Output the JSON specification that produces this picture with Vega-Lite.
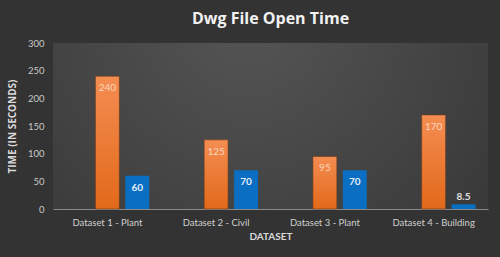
{
  "$schema": "https://vega.github.io/schema/vega-lite/v6.json",
  "width": 435,
  "height": 166,
  "autosize": {"type": "none"},
  "padding": {"left": 53, "top": 43, "right": 12, "bottom": 48},
  "background": "#333333",
  "title": {
    "text": "Dwg File Open Time",
    "font": "Open Sans",
    "fontSize": 16,
    "fontWeight": "bold",
    "color": "#f2f2f2",
    "anchor": "middle",
    "offset": 11
  },
  "config": {
    "view": {"stroke": null,
      "fill": {"gradient": "radial", "x1": 0.45, "y1": 0.25, "x2": 0.45, "y2": 0.25, "r1": 0, "r2": 0.8,
        "stops": [{"offset": 0, "color": "#555555"}, {"offset": 1, "color": "#353535"}]}},
    "font": "Lato"
  },
  "data": {
    "values": [
      {"dataset": "Dataset 1 - Plant", "series": "s1", "time": 240},
      {"dataset": "Dataset 1 - Plant", "series": "s2", "time": 60},
      {"dataset": "Dataset 2 - Civil", "series": "s1", "time": 125},
      {"dataset": "Dataset 2 - Civil", "series": "s2", "time": 70},
      {"dataset": "Dataset 3 - Plant", "series": "s1", "time": 95},
      {"dataset": "Dataset 3 - Plant", "series": "s2", "time": 70},
      {"dataset": "Dataset 4 - Building", "series": "s1", "time": 170},
      {"dataset": "Dataset 4 - Building", "series": "s2", "time": 8.5}
    ]
  },
  "encoding": {
    "x": {
      "field": "dataset", "type": "nominal", "sort": null,
      "scale": {"paddingInner": 0.23, "paddingOuter": 0.115},
      "axis": {
        "title": "DATASET", "labelAngle": 0, "labelColor": "#d0d0d0", "labelFontSize": 9.5,
        "labelPadding": 8, "ticks": false, "domainColor": "#8a8a8a", "domainWidth": 1,
        "titleColor": "#d9d9d9", "titleFontSize": 10, "titleFontWeight": "bold", "titlePadding": 5
      }
    },
    "xOffset": {
      "field": "series", "type": "nominal",
      "scale": {"domain": ["s0", "s1", "s2"], "paddingInner": 0.2, "paddingOuter": 0}
    },
    "y": {
      "field": "time", "type": "quantitative",
      "scale": {"domain": [0, 300], "nice": false},
      "axis": {
        "title": "TIME (IN SECONDS)", "values": [0, 50, 100, 150, 200, 250, 300],
        "grid": false, "domain": false, "ticks": false, "labelColor": "#c8c8c8", "labelFontSize": 9.5,
        "labelPadding": 9, "titleColor": "#d9d9d9", "titleFontSize": 10, "titleFont": "Open Sans", "titleFontWeight": "bold",
        "titlePadding": 10
      }
    }
  },
  "layer": [
    {
      "transform": [{"filter": "datum.series === 's1'"}],
      "mark": {"type": "bar", "stroke": "#6b3a1a", "strokeWidth": 0.6,
        "color": {"gradient": "linear", "x1": 0, "y1": 0, "x2": 0, "y2": 1,
          "stops": [{"offset": 0, "color": "#f48d52"}, {"offset": 1, "color": "#e2691a"}]}}
    },
    {
      "transform": [{"filter": "datum.series === 's2'"}],
      "mark": {"type": "bar", "color": "#0a6fc2"}
    },
    {
      "transform": [{"filter": "datum.series === 's1'"}],
      "mark": {"type": "text", "baseline": "middle", "dy": 12, "color": "#fbd6bf", "fontSize": 10},
      "encoding": {"text": {"field": "time"}}
    },
    {
      "transform": [{"filter": "datum.series === 's2' && datum.time >= 20"}],
      "mark": {"type": "text", "baseline": "middle", "dy": 12, "color": "#e6eef8", "fontSize": 10, "fontWeight": "bold"},
      "encoding": {"text": {"field": "time"}}
    },
    {
      "transform": [{"filter": "datum.series === 's2' && datum.time < 20"}],
      "mark": {"type": "text", "baseline": "bottom", "dy": -2, "color": "#e0e0e0", "fontSize": 10, "fontWeight": "bold"},
      "encoding": {"text": {"field": "time"}}
    }
  ]
}
